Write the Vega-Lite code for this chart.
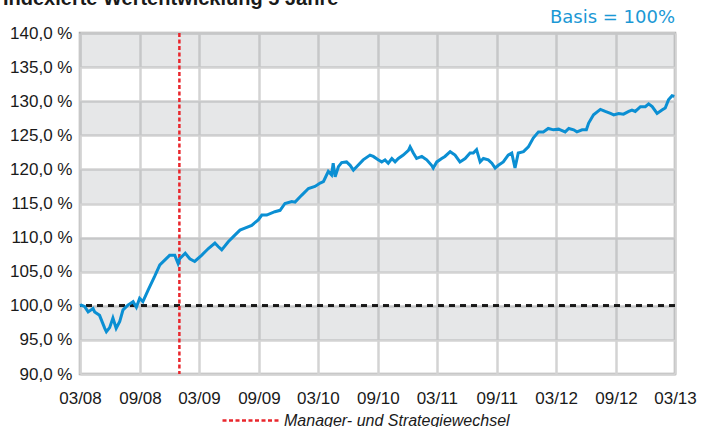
{
  "$schema": "https://vega.github.io/schema/vega-lite/v6.json",
  "width": 595,
  "height": 341,
  "autosize": "none",
  "padding": {"left": 80, "top": 33, "right": 26, "bottom": 53},
  "background": "white",
  "title": {
    "text": "Indexierte Wertentwicklung 5 Jahre",
    "anchor": "start",
    "frame": "group",
    "dx": -77,
    "offset": -16,
    "baseline": "alphabetic",
    "font": "Liberation Sans",
    "fontSize": 20,
    "fontWeight": "bold",
    "color": "#1a1a1a"
  },
  "datasets": {
    "bands": [
      {"lo": 135, "hi": 140},
      {"lo": 125, "hi": 130},
      {"lo": 115, "hi": 120},
      {"lo": 105, "hi": 110},
      {"lo": 95, "hi": 100}
    ],
    "event": [
      {"date": "2008-12-31", "event": "Manager- und Strategiewechsel"}
    ],
    "series": [
      {"date": "2008-03-01", "value": 100.0},
      {"date": "2008-03-05", "value": 100.1},
      {"date": "2008-03-15", "value": 99.9},
      {"date": "2008-03-26", "value": 99.1},
      {"date": "2008-04-10", "value": 99.6},
      {"date": "2008-04-15", "value": 99.1},
      {"date": "2008-04-30", "value": 98.6},
      {"date": "2008-05-16", "value": 96.7},
      {"date": "2008-05-21", "value": 96.2},
      {"date": "2008-05-31", "value": 96.8},
      {"date": "2008-06-10", "value": 98.2},
      {"date": "2008-06-20", "value": 96.7},
      {"date": "2008-07-01", "value": 97.7},
      {"date": "2008-07-11", "value": 99.4},
      {"date": "2008-07-26", "value": 100.1},
      {"date": "2008-08-11", "value": 100.6},
      {"date": "2008-08-21", "value": 99.8},
      {"date": "2008-08-31", "value": 101.1},
      {"date": "2008-09-10", "value": 100.6},
      {"date": "2008-09-26", "value": 102.3},
      {"date": "2008-10-16", "value": 104.3},
      {"date": "2008-11-01", "value": 106.0},
      {"date": "2008-11-16", "value": 106.7},
      {"date": "2008-12-01", "value": 107.4},
      {"date": "2008-12-17", "value": 107.4},
      {"date": "2008-12-27", "value": 106.2},
      {"date": "2009-01-01", "value": 106.9},
      {"date": "2009-01-18", "value": 107.7},
      {"date": "2009-02-01", "value": 106.9},
      {"date": "2009-02-16", "value": 106.5},
      {"date": "2009-03-09", "value": 107.4},
      {"date": "2009-03-30", "value": 108.4},
      {"date": "2009-04-19", "value": 109.2},
      {"date": "2009-04-29", "value": 108.7},
      {"date": "2009-05-10", "value": 108.2},
      {"date": "2009-05-30", "value": 109.4},
      {"date": "2009-06-20", "value": 110.4},
      {"date": "2009-07-05", "value": 111.1},
      {"date": "2009-07-20", "value": 111.4},
      {"date": "2009-08-10", "value": 111.8},
      {"date": "2009-08-30", "value": 112.6},
      {"date": "2009-09-10", "value": 113.3},
      {"date": "2009-09-25", "value": 113.3},
      {"date": "2009-10-20", "value": 113.8},
      {"date": "2009-11-05", "value": 114.0},
      {"date": "2009-11-20", "value": 115.0},
      {"date": "2009-12-11", "value": 115.3},
      {"date": "2009-12-21", "value": 115.2},
      {"date": "2010-01-10", "value": 116.2},
      {"date": "2010-01-31", "value": 117.2},
      {"date": "2010-02-20", "value": 117.5},
      {"date": "2010-03-08", "value": 118.0},
      {"date": "2010-03-18", "value": 118.2},
      {"date": "2010-03-23", "value": 118.7},
      {"date": "2010-04-02", "value": 119.7},
      {"date": "2010-04-12", "value": 119.2},
      {"date": "2010-04-17", "value": 120.9},
      {"date": "2010-04-23", "value": 118.9},
      {"date": "2010-05-03", "value": 120.4},
      {"date": "2010-05-13", "value": 121.0},
      {"date": "2010-05-28", "value": 121.1},
      {"date": "2010-06-08", "value": 120.6},
      {"date": "2010-06-18", "value": 119.9},
      {"date": "2010-06-28", "value": 120.4},
      {"date": "2010-07-18", "value": 121.4},
      {"date": "2010-08-08", "value": 122.1},
      {"date": "2010-08-18", "value": 121.9},
      {"date": "2010-09-02", "value": 121.4},
      {"date": "2010-09-13", "value": 121.1},
      {"date": "2010-09-23", "value": 121.4},
      {"date": "2010-10-03", "value": 120.9},
      {"date": "2010-10-14", "value": 121.6},
      {"date": "2010-10-24", "value": 121.1},
      {"date": "2010-11-03", "value": 121.6},
      {"date": "2010-11-18", "value": 122.1},
      {"date": "2010-12-04", "value": 122.8},
      {"date": "2010-12-09", "value": 123.3},
      {"date": "2010-12-19", "value": 122.4},
      {"date": "2010-12-29", "value": 121.6},
      {"date": "2011-01-14", "value": 121.9},
      {"date": "2011-01-29", "value": 121.4},
      {"date": "2011-02-13", "value": 120.6},
      {"date": "2011-02-18", "value": 120.2},
      {"date": "2011-03-01", "value": 121.1},
      {"date": "2011-03-16", "value": 121.6},
      {"date": "2011-03-26", "value": 121.9},
      {"date": "2011-04-11", "value": 122.6},
      {"date": "2011-04-26", "value": 122.1},
      {"date": "2011-05-11", "value": 121.1},
      {"date": "2011-05-27", "value": 121.6},
      {"date": "2011-06-11", "value": 122.4},
      {"date": "2011-06-21", "value": 122.4},
      {"date": "2011-07-01", "value": 122.9},
      {"date": "2011-07-12", "value": 121.1},
      {"date": "2011-07-22", "value": 121.6},
      {"date": "2011-08-06", "value": 121.4},
      {"date": "2011-08-17", "value": 120.9},
      {"date": "2011-08-27", "value": 120.2},
      {"date": "2011-09-06", "value": 120.6},
      {"date": "2011-09-21", "value": 121.1},
      {"date": "2011-10-06", "value": 122.1},
      {"date": "2011-10-17", "value": 122.4},
      {"date": "2011-10-27", "value": 120.2},
      {"date": "2011-11-06", "value": 122.4},
      {"date": "2011-11-22", "value": 122.6},
      {"date": "2011-12-07", "value": 123.3},
      {"date": "2011-12-22", "value": 124.6},
      {"date": "2012-01-07", "value": 125.5},
      {"date": "2012-01-22", "value": 125.5},
      {"date": "2012-02-06", "value": 126.0},
      {"date": "2012-02-22", "value": 125.8},
      {"date": "2012-03-09", "value": 125.9},
      {"date": "2012-03-14", "value": 125.8},
      {"date": "2012-03-29", "value": 125.5},
      {"date": "2012-04-09", "value": 126.0},
      {"date": "2012-04-24", "value": 125.8},
      {"date": "2012-05-04", "value": 125.5},
      {"date": "2012-05-20", "value": 125.8},
      {"date": "2012-06-02", "value": 125.8},
      {"date": "2012-06-09", "value": 126.8},
      {"date": "2012-06-24", "value": 128.0},
      {"date": "2012-07-15", "value": 128.8},
      {"date": "2012-07-30", "value": 128.5},
      {"date": "2012-08-15", "value": 128.2},
      {"date": "2012-08-25", "value": 128.0},
      {"date": "2012-09-09", "value": 128.2},
      {"date": "2012-09-24", "value": 128.1},
      {"date": "2012-10-10", "value": 128.5},
      {"date": "2012-10-20", "value": 128.7},
      {"date": "2012-10-30", "value": 128.5},
      {"date": "2012-11-15", "value": 129.2},
      {"date": "2012-11-30", "value": 129.2},
      {"date": "2012-12-10", "value": 129.6},
      {"date": "2012-12-21", "value": 129.2},
      {"date": "2013-01-05", "value": 128.2},
      {"date": "2013-01-20", "value": 128.7},
      {"date": "2013-01-30", "value": 129.0},
      {"date": "2013-02-09", "value": 130.2},
      {"date": "2013-02-20", "value": 130.8},
      {"date": "2013-02-27", "value": 130.7}
    ]
  },
  "encoding": {
    "x": {
      "type": "temporal",
      "scale": {
        "domain": [
          {"year": 2008, "month": 3, "date": 1},
          {"year": 2013, "month": 3, "date": 1}
        ],
        "nice": false
      },
      "axis": {
        "title": null,
        "format": "%m/%y",
        "values": [
          {"year": 2008, "month": 3, "date": 1},
          {"year": 2008, "month": 9, "date": 1},
          {"year": 2009, "month": 3, "date": 1},
          {"year": 2009, "month": 9, "date": 1},
          {"year": 2010, "month": 3, "date": 1},
          {"year": 2010, "month": 9, "date": 1},
          {"year": 2011, "month": 3, "date": 1},
          {"year": 2011, "month": 9, "date": 1},
          {"year": 2012, "month": 3, "date": 1},
          {"year": 2012, "month": 9, "date": 1},
          {"year": 2013, "month": 3, "date": 1}
        ],
        "ticks": false,
        "domain": false,
        "labelPadding": 16,
        "labelFontSize": 17,
        "labelColor": "#1a1a1a",
        "labelFlush": false,
        "labelOverlap": false,
        "grid": true,
        "gridColor": "#d3d3d3",
        "gridWidth": 2.5
      }
    },
    "y": {
      "type": "quantitative",
      "scale": {"domain": [90, 140], "nice": false, "zero": false},
      "axis": {
        "title": null,
        "values": [90, 95, 100, 105, 110, 115, 120, 125, 130, 135, 140],
        "labelExpr": "replace(format(datum.value, '.1f'), '.', ',') + ' %'",
        "ticks": false,
        "domain": false,
        "labelPadding": 8,
        "labelFontSize": 17,
        "labelColor": "#1a1a1a",
        "grid": true,
        "gridColor": "#d3d3d3",
        "gridWidth": 2.5
      }
    }
  },
  "layer": [
    {
      "data": {"name": "bands"},
      "mark": {"type": "rect", "fill": "#a7a9ac", "opacity": 0.28},
      "encoding": {
        "y": {"field": "lo", "type": "quantitative"},
        "y2": {"field": "hi"}
      }
    },
    {
      "data": {"name": "bands"},
      "mark": {"type": "rule", "color": "#1a1a1a", "strokeWidth": 2.5, "strokeDash": [6, 5]},
      "encoding": {
        "y": {"datum": 100, "type": "quantitative"}
      }
    },
    {
      "data": {"name": "event"},
      "mark": {"type": "rule", "strokeWidth": 2.5, "strokeDash": [4, 2.5]},
      "encoding": {
        "x": {"field": "date", "type": "temporal"},
        "color": {
          "field": "event",
          "type": "nominal",
          "scale": {"range": ["#e9262c"]},
          "legend": {
            "title": null,
            "orient": "none",
            "legendX": 141,
            "legendY": 357,
            "symbolType": "stroke",
            "symbolSize": 3364,
            "symbolStrokeWidth": 2.5,
            "symbolDash": [4, 2.5],
            "symbolOffset": 0,
            "labelFontSize": 16,
            "labelFontStyle": "italic",
            "labelColor": "#1a1a1a",
            "labelOffset": 2,
            "labelLimit": 400
          }
        }
      }
    },
    {
      "data": {"name": "series"},
      "mark": {"type": "line", "color": "#0b8fd3", "strokeWidth": 3},
      "encoding": {
        "x": {"field": "date", "type": "temporal"},
        "y": {"field": "value", "type": "quantitative"}
      }
    },
    {
      "data": {"name": "event"},
      "mark": {
        "type": "text",
        "text": "Basis = 100%",
        "align": "right",
        "baseline": "alphabetic",
        "font": "DejaVu Sans",
        "fontSize": 18,
        "color": "#1b98d5"
      },
      "encoding": {
        "x": {"datum": {"year": 2013, "month": 3, "date": 1}, "type": "temporal"},
        "y": {"datum": 141.5, "type": "quantitative"}
      }
    }
  ],
  "config": {
    "font": "Liberation Sans",
    "view": {"stroke": "#a8a8a8", "strokeWidth": 2.5}
  }
}
